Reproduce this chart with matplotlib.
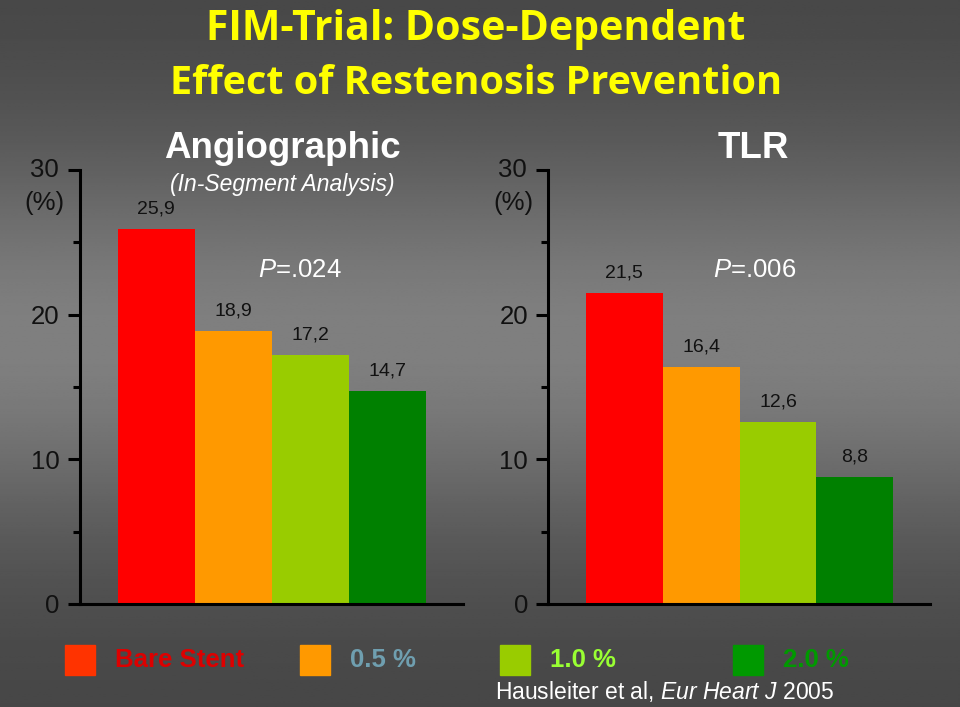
import numpy as np
import matplotlib.pyplot as plt

plt.rcParams['font.family'] = ['Liberation Sans', 'DejaVu Sans']
plt.rcParams['mathtext.fontset'] = 'custom'
plt.rcParams['mathtext.rm'] = 'Liberation Sans'
plt.rcParams['mathtext.it'] = 'Liberation Sans:italic'

groups = ['Bare Stent', '0.5 %', '1.0 %', '2.0 %']
angio = [25.9, 18.9, 17.2, 14.7]
tlr = [21.5, 16.4, 12.6, 8.8]
angio_labels = ['25,9', '18,9', '17,2', '14,7']
tlr_labels = ['21,5', '16,4', '12,6', '8,8']
bar_colors = ['#ff0000', '#ff9900', '#99cc00', '#008000']
legend_box_colors = ['#ff3300', '#ff9900', '#99cc00', '#009900']
legend_text_colors = ['#dd0000', '#6f9fb0', '#99ff33', '#009900']

fig = plt.figure(figsize=(9.6, 7.07), dpi=100)

# background gradient
bg = fig.add_axes([0, 0, 1, 1], zorder=-10)
yy = np.linspace(0, 1, 300)
shade = 0.27 + 0.23 * np.exp(-((yy - 0.48) / 0.28) ** 2)
bg.imshow(np.repeat(shade[:, None], 2, axis=1), cmap='gray', vmin=0, vmax=1,
          aspect='auto', extent=[0, 1, 0, 1], origin='upper')
bg.axis('off')

fig.text(0.496, 1 - 30 / 707, 'FIM-Trial: Dose-Dependent', color='#ffff00',
         fontsize=29.5, fontweight='bold', family='Open Sans', ha='center', va='center')
fig.text(0.496, 1 - 84 / 707, 'Effect of Restenosis Prevention', color='#ffff00',
         fontsize=28.5, fontweight='bold', family='Open Sans', ha='center', va='center')


def panel(rect, values, labels, ptext, px, title, tx, subtitle=None):
    ax = fig.add_axes(rect)
    ax.set_facecolor('none')
    x = np.arange(len(values))
    ax.bar(x, values, width=1.0, color=bar_colors)
    for xi, v, lab in zip(x, values, labels):
        ax.text(xi, v + 0.8, lab, ha='center', va='bottom', fontsize=14, color='#111111')
    ax.set_xlim(-0.99, 3.98)
    ax.set_ylim(0, 30)
    ax.set_yticks([0, 10, 20, 30])
    ax.set_yticklabels(['0', '10', '20', ''])
    ax.set_yticks([5, 15, 25], minor=True)
    ax.set_xticks([])
    for s in ['top', 'right']:
        ax.spines[s].set_visible(False)
    for s in ['left', 'bottom']:
        ax.spines[s].set_linewidth(2.2)
        ax.spines[s].set_color('black')
    ax.tick_params(axis='y', which='major', length=9, width=2.2, labelsize=18.5,
                   labelcolor='#111111', pad=5.5)
    ax.tick_params(axis='y', which='minor', length=5, width=2.2)
    ax.text(-0.055, 1.0, '30', transform=ax.transAxes, ha='right', va='center',
            fontsize=18.5, color='#111111')
    ax.text(-0.092, 0.924, '(%)', transform=ax.transAxes, ha='center', va='center',
            fontsize=18.5, color='#111111')
    ax.text(px, 23.1, ptext, ha='center', va='center', fontsize=18.5, color='white')
    ax.text(tx, 31.5, title, ha='center', va='center', fontsize=26.5,
            fontweight='bold', color='white', clip_on=False)
    if subtitle:
        ax.text(tx, 29.0, subtitle, ha='center', va='center', fontsize=16.5,
                style='italic', color='white', clip_on=False)
    return ax


panel([0.0833, 0.1457, 0.399, 0.6138], angio, angio_labels, '$P$=.024', 1.86,
      'Angiographic', 1.64, '(In-Segment Analysis)')
panel([0.571, 0.1457, 0.398, 0.6138], tlr, tlr_labels, '$P$=.006', 1.70,
      'TLR', 1.68)

# legend row
box_x = [65, 300, 500, 733]
for bx, bc, tc, name in zip(box_x, legend_box_colors, legend_text_colors, groups):
    fig.patches.append(plt.Rectangle((bx / 960, 1 - 675 / 707), 30 / 960, 30 / 707,
                                     transform=fig.transFigure, color=bc))
    fig.text((bx + 50) / 960, 1 - 660 / 707, name, color=tc, fontsize=18.5,
             fontweight='bold', ha='left', va='center')

fig.text(0.692, 1 - 692 / 707, r'Hausleiter et al, $Eur\ Heart\ J$ 2005',
         color='white', fontsize=16.5, ha='center', va='center')

fig.savefig('out.png', dpi=100)
